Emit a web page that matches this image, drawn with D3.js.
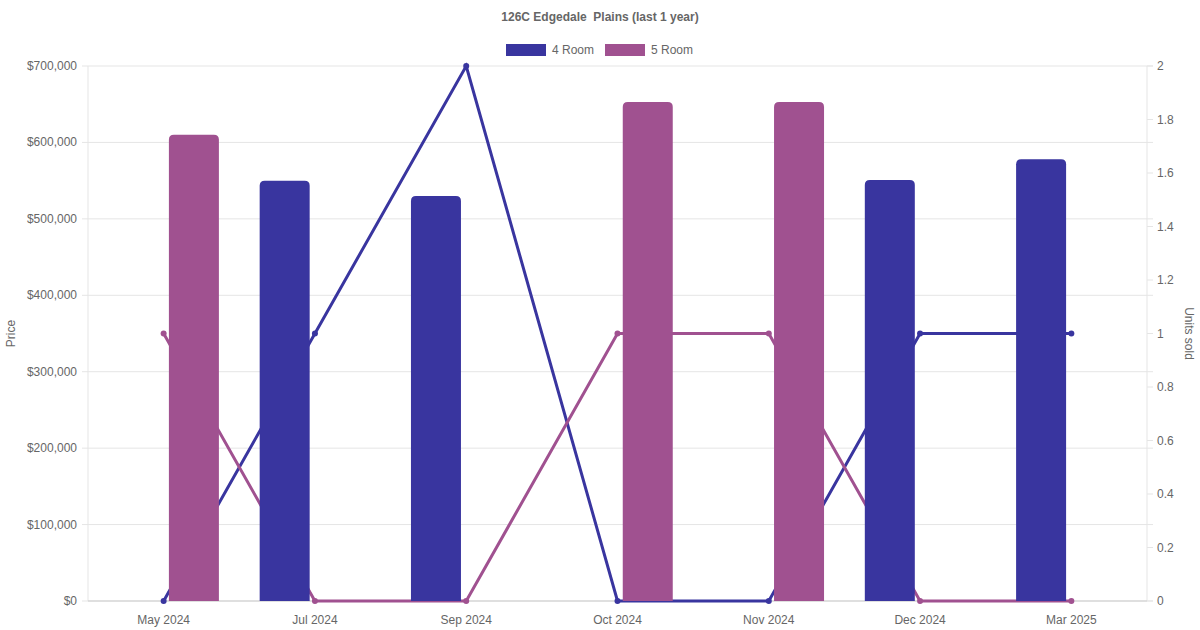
<!DOCTYPE html>
<html>
<head>
<meta charset="utf-8">
<script src="https://cdn.jsdelivr.net/npm/d3@7"></script>
<style>
  body { margin: 0; background: #fff; }
  svg { font-family: "Liberation Sans", Arial, sans-serif; }
</style>
</head>
<body>
<div id="chart"></div>
<script>
// data
const months = ["May 2024", "Jul 2024", "Sep 2024", "Oct 2024", "Nov 2024", "Dec 2024", "Mar 2025"];
const seriesNames = ["4 Room", "5 Room"];
const price4 = [0, 550000, 530000, 0, 0, 551000, 578000];
const price5 = [610000, 0, 0, 653000, 653000, 0, 0];
const units4 = [0, 1, 2, 0, 0, 1, 1];
const units5 = [1, 0, 0, 1, 1, 0, 0];
const priceTicks = [0, 100000, 200000, 300000, 400000, 500000, 600000, 700000];
const unitTicks = [0, 0.2, 0.4, 0.6, 0.8, 1, 1.2, 1.4, 1.6, 1.8, 2];

const colors = {"4 Room": "#39359f", "5 Room": "#a05190"};

const W = 1200, H = 630;
const pLeft = 88, pRight = 1147, pTop = 66, pBottom = 601;

const svg = d3.select('#chart').append('svg')
    .attr('width', W)
    .attr('height', H);

const x = d3.scaleBand().domain(months).range([pLeft, pRight]);
const xs = d3.scaleBand().domain(seriesNames)
    .range([x.bandwidth() * 0.1, x.bandwidth() * 0.9]);
const yP = d3.scaleLinear().domain([0, 700000]).range([pBottom, pTop]);
const yU = d3.scaleLinear().domain([0, 2]).range([pBottom, pTop]);

// grid
svg.append('g').selectAll('line').data(priceTicks).enter().append('line')
    .attr('x1', pLeft - 6).attr('x2', pRight + 6)
    .attr('y1', d => yP(d)).attr('y2', d => yP(d))
    .attr('stroke', '#e5e5e5').attr('stroke-width', 1);
svg.append('g').selectAll('line').data(unitTicks).enter().append('line')
    .attr('x1', pRight).attr('x2', pRight + 6)
    .attr('y1', d => yU(d)).attr('y2', d => yU(d))
    .attr('stroke', '#e5e5e5').attr('stroke-width', 1);
svg.append('line')
    .attr('x1', pLeft).attr('x2', pLeft).attr('y1', pTop).attr('y2', pBottom)
    .attr('stroke', '#e5e5e5');
svg.append('line')
    .attr('x1', pRight).attr('x2', pRight).attr('y1', pTop).attr('y2', pBottom)
    .attr('stroke', '#e5e5e5');
svg.append('line')
    .attr('x1', pLeft).attr('x2', pRight).attr('y1', pBottom).attr('y2', pBottom)
    .attr('stroke', '#cccccc');

// tick labels
svg.append('g').selectAll('text').data(priceTicks).enter().append('text')
    .attr('x', pLeft - 11).attr('y', d => yP(d) + 4)
    .attr('text-anchor', 'end').attr('font-size', 12).attr('fill', '#666')
    .text(d => '$' + d3.format(',')(d));
svg.append('g').selectAll('text').data(unitTicks).enter().append('text')
    .attr('x', pRight + 10).attr('y', d => yU(d) + 4)
    .attr('font-size', 12).attr('fill', '#666')
    .text(d => d);
svg.append('g').selectAll('text').data(months).enter().append('text')
    .attr('x', d => x(d) + x.bandwidth() / 2).attr('y', 624)
    .attr('text-anchor', 'middle').attr('font-size', 12).attr('fill', '#666')
    .text(d => d);

// axis titles
svg.append('text')
    .attr('transform', 'translate(15,' + ((pTop + pBottom) / 2) + ') rotate(-90)')
    .attr('text-anchor', 'middle').attr('font-size', 12).attr('fill', '#666')
    .text('Price');
svg.append('text')
    .attr('transform', 'translate(1185,' + ((pTop + pBottom) / 2) + ') rotate(90)')
    .attr('text-anchor', 'middle').attr('font-size', 12).attr('fill', '#666')
    .text('Units sold');

// title
svg.append('text')
    .attr('x', W / 2).attr('y', 21)
    .attr('text-anchor', 'middle').attr('font-size', 12).attr('font-weight', 'bold')
    .attr('fill', '#666')
    .style('white-space', 'pre')
    .text('126C Edgedale  Plains (last 1 year)');

// legend
const legend = [{name: "4 Room", x: 506}, {name: "5 Room", x: 605}];
const lg = svg.append('g');
lg.selectAll('rect').data(legend).enter().append('rect')
    .attr('x', d => d.x).attr('y', 44).attr('width', 40).attr('height', 12)
    .attr('fill', d => colors[d.name]);
lg.selectAll('text').data(legend).enter().append('text')
    .attr('x', d => d.x + 46).attr('y', 54)
    .attr('font-size', 12).attr('fill', '#666')
    .text(d => d.name);

// lines (behind bars)
const unitSeries = [{name: "4 Room", values: units4}, {name: "5 Room", values: units5}];
const line = d3.line()
    .x((d, i) => x(months[i]) + x.bandwidth() / 2)
    .y(d => yU(d));

unitSeries.forEach(function (s) {
    svg.append('path')
        .attr('d', line(s.values))
        .attr('fill', 'none')
        .attr('stroke', colors[s.name])
        .attr('stroke-width', 3);
    svg.append('g').selectAll('circle').data(s.values).enter().append('circle')
        .attr('cx', (d, i) => x(months[i]) + x.bandwidth() / 2)
        .attr('cy', d => yU(d))
        .attr('r', 3)
        .attr('fill', colors[s.name]);
});

// bars with rounded tops
const priceSeries = [{name: "4 Room", values: price4}, {name: "5 Room", values: price5}];
const barW = 50;
function barPath(x0, y0, w, y1, r) {
    r = Math.min(r, (y1 - y0) / 2, w / 2);
    return 'M' + x0 + ',' + y1 +
        'V' + (y0 + r) +
        'Q' + x0 + ',' + y0 + ' ' + (x0 + r) + ',' + y0 +
        'H' + (x0 + w - r) +
        'Q' + (x0 + w) + ',' + y0 + ' ' + (x0 + w) + ',' + (y0 + r) +
        'V' + y1 + 'Z';
}
priceSeries.forEach(function (s) {
    let pts = s.values.map((v, i) => ({month: months[i], value: v}))
        .filter(d => d.value > 0);
    svg.append('g').selectAll('path').data(pts).enter().append('path')
        .attr('d', function (d) {
            let cx = x(d.month) + xs(s.name) + xs.bandwidth() / 2;
            return barPath(cx - barW / 2, yP(d.value), barW, yP(0), 5);
        })
        .attr('fill', colors[s.name]);
});
</script>
</body>
</html>
